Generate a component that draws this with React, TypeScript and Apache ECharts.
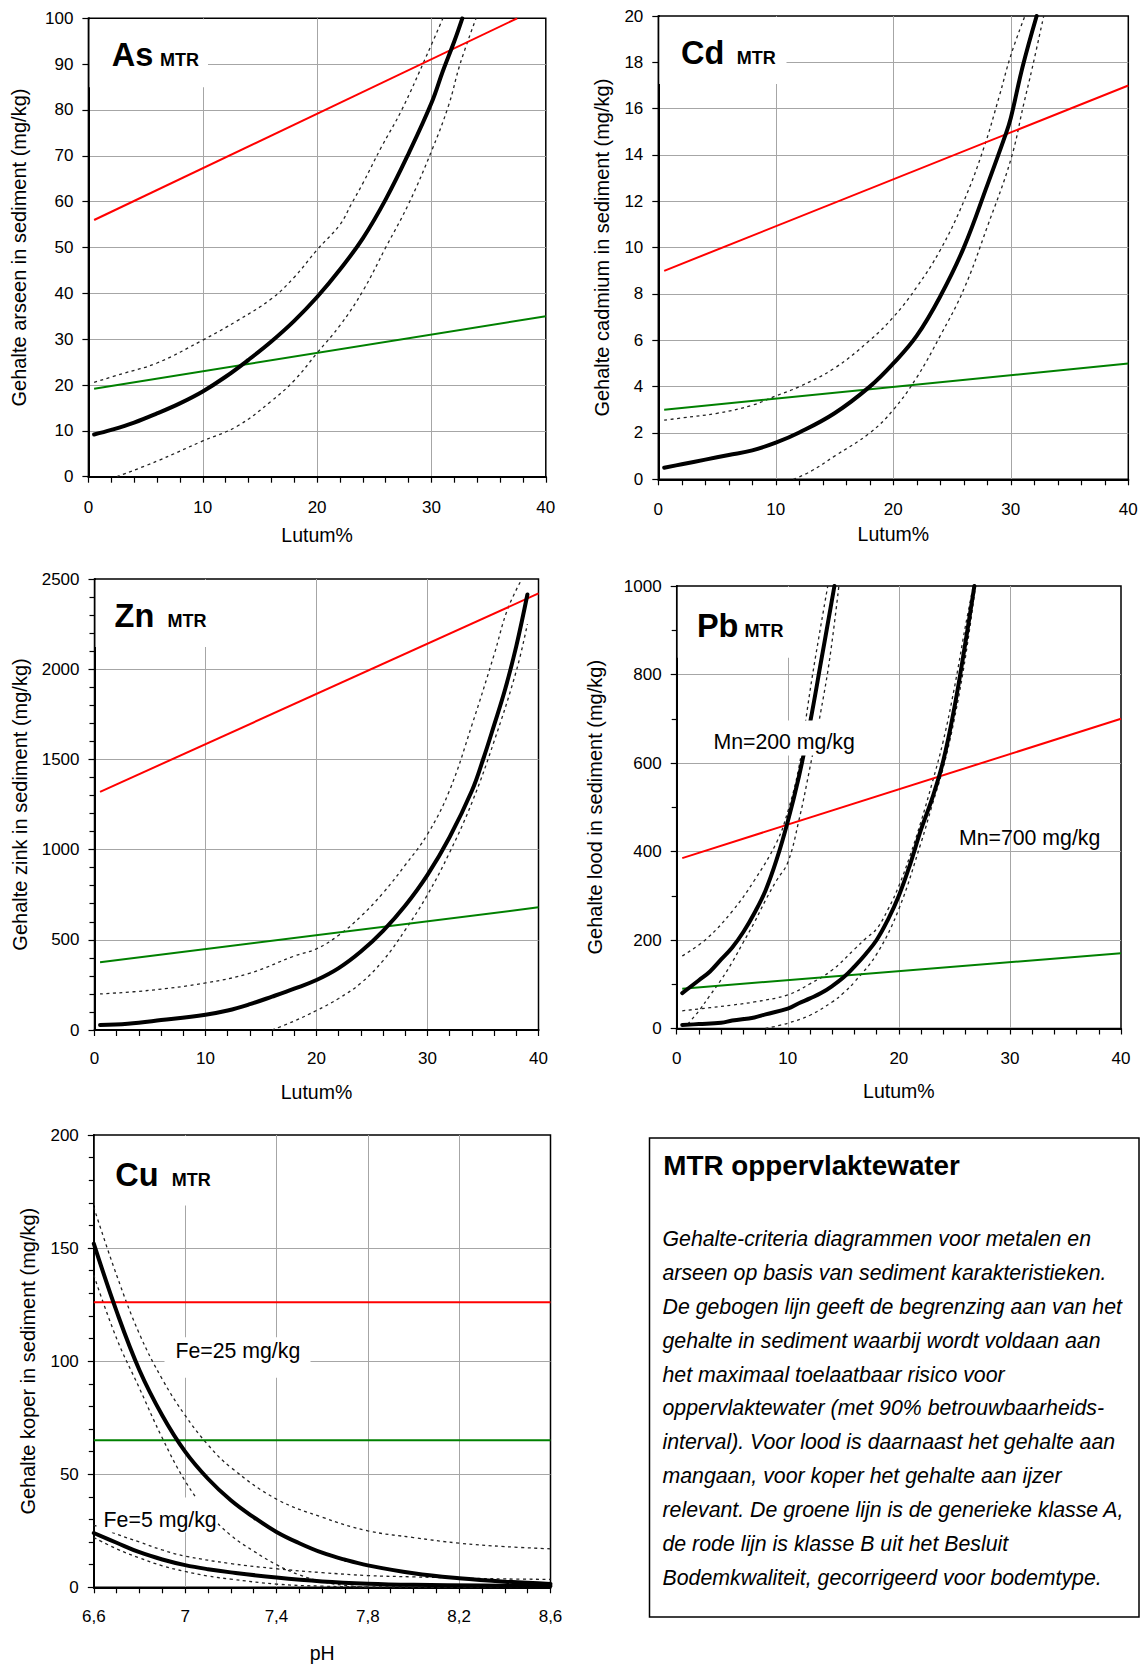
import { useEffect, useRef } from "react";
import * as echarts from "echarts";

type Pt = [number, number];

const FONT = '"Liberation Sans", Arial, Helvetica, sans-serif';

// ---------- As (Lutum% vs mg/kg) ----------
const asMain: Pt[] = [[0.5, 9.2], [2, 10.2], [4, 11.8], [6, 13.8], [8, 16], [10, 18.6], [12, 21.8], [14, 25.5], [16, 29.5], [18, 34], [20, 39.2], [22, 45.2], [24, 52], [26, 60.5], [28, 70.5], [30, 81.5], [31, 88.5], [32, 95], [32.7, 100]];
const asUpper: Pt[] = [[0.5, 20.6], [3, 22.5], [6, 24.8], [10, 29.8], [13, 34], [16, 38.8], [18, 43.5], [20, 49.5], [22, 55], [23, 59.5], [24, 64], [25.6, 71.8], [27.4, 80], [29.6, 92], [31, 100]];
const asLower: Pt[] = [[2.5, 0], [6, 3.4], [10, 7.8], [13, 11], [16, 16.5], [18, 21], [20, 27], [22, 33], [24, 40.5], [26, 50], [28, 59.5], [30, 71], [31.5, 81], [32.5, 90], [33.9, 100]];
const asRed: Pt[] = [[0.5, 56], [37.5, 100]];
const asGreen: Pt[] = [[0.5, 19.2], [40, 35]];

// ---------- Cd ----------
const cdMain: Pt[] = [[0.5, 0.5], [2, 0.65], [4, 0.85], [6, 1.05], [8, 1.25], [10, 1.58], [12, 2.02], [15, 2.85], [18, 4.0], [20, 5.0], [22, 6.2], [24, 7.9], [26, 10], [28, 12.7], [29.5, 14.8], [30, 15.6], [31, 17.8], [32.2, 20]];
const cdUpper: Pt[] = [[0.5, 2.55], [2, 2.65], [5, 2.85], [8, 3.2], [10, 3.6], [12, 4.0], [15, 4.8], [18, 6.0], [20, 7.0], [22, 8.3], [24, 9.9], [26, 12], [27.7, 14.3], [29, 16.5], [30, 18.3], [31.2, 20]];
const cdLower: Pt[] = [[11.5, 0], [13, 0.35], [15, 1.0], [18, 2.0], [20, 3.0], [22, 4.4], [24, 6.2], [26, 8.2], [28, 10.9], [30, 13.8], [31.1, 16.2], [31.8, 17.7], [32.8, 20]];
const cdRed: Pt[] = [[0.5, 9], [40, 17]];
const cdGreen: Pt[] = [[0.5, 3], [40, 5]];

// ---------- Zn ----------
const znMain: Pt[] = [[0.5, 28], [3, 35], [6, 55], [10, 85], [12, 108], [14, 143], [16, 185], [18, 229], [20, 277], [22, 343], [24, 435], [26, 550], [28, 690], [30, 860], [32, 1070], [34, 1326], [35, 1498], [36, 1690], [37, 1890], [38, 2128], [39, 2414]];
const znUpper: Pt[] = [[0.5, 200], [5, 220], [10, 261], [14, 315], [18, 410], [20, 450], [22, 525], [24, 630], [26, 760], [28, 915], [30, 1085], [32, 1330], [34, 1690], [36, 2080], [37.2, 2330], [38.5, 2500]];
const znLower: Pt[] = [[16, 0], [18, 50], [20, 108], [22, 175], [24, 260], [26, 385], [28, 555], [30, 750], [32, 985], [34, 1260], [36, 1600], [38, 1990], [39, 2250]];
const znRed: Pt[] = [[0.5, 1320], [40, 2420]];
const znGreen: Pt[] = [[0.5, 375], [40, 680]];

// ---------- Pb ----------
const pb200Main: Pt[] = [[0.5, 80], [2, 109], [3, 129], [4, 156], [5, 183], [6, 218], [7, 261], [8, 312], [9, 382], [10, 468], [11, 569], [12, 690], [13, 830], [14.2, 1000]];
const pb200Upper: Pt[] = [[0.5, 164], [2.7, 203], [5, 265], [7, 335], [9, 421], [10, 490], [11, 590], [11.6, 694], [12.3, 810], [13.6, 1000]];
const pb200Lower: Pt[] = [[1, 10], [2, 40], [3, 75], [4, 110], [5, 150], [6, 195], [7, 240], [8, 290], [9, 335], [10, 375], [11, 470], [12, 590], [13, 720], [13.8, 840], [14.6, 1000]];
const pb700Main: Pt[] = [[0.5, 8], [2, 10], [4, 13], [5, 18], [7, 25], [8, 32], [10, 45], [11, 57], [12, 68], [13, 80], [14, 96], [15, 115], [16, 140], [17, 168], [18, 200], [19, 245], [20, 300], [21, 370], [22, 450], [23, 520], [24, 605], [25, 725], [26, 873], [26.8, 1000]];
const pb700Upper: Pt[] = [[0.5, 40], [3, 47], [5, 53], [7, 60], [10, 76], [12, 101], [14, 132], [16, 179], [17, 203], [18, 225], [19, 268], [20, 322], [21, 390], [22, 468], [23, 555], [24, 650], [25, 770], [26, 910], [26.7, 1000]];
const pb700Lower: Pt[] = [[8, 0], [10, 12], [12, 30], [14, 60], [15, 80], [16, 105], [18, 168], [20, 270], [22, 420], [23, 505], [24, 590], [25, 700], [26, 840], [26.9, 1000]];
const pbRed: Pt[] = [[0.5, 385], [40, 700]];
const pbGreen: Pt[] = [[0.5, 90], [40, 170]];

// ---------- Cu (pH) ----------
const cu25Main: Pt[] = [[6.6, 152], [6.7, 122], [6.8, 96], [6.9, 76], [7.0, 60], [7.1, 48], [7.2, 38.5], [7.3, 31], [7.4, 24.5], [7.5, 19.5], [7.6, 15.3], [7.7, 12.2], [7.8, 9.7], [8.0, 6.2], [8.2, 4], [8.4, 2.5], [8.6, 1.5]];
const cu25Upper: Pt[] = [[6.6, 168], [6.7, 138], [6.8, 112], [6.9, 92], [7.0, 76], [7.1, 63], [7.2, 53], [7.4, 39], [7.6, 31], [7.8, 25], [8.0, 22], [8.2, 19.5], [8.4, 18], [8.6, 17]];
const cu25Lower: Pt[] = [[6.6, 138], [6.7, 110], [6.8, 88], [6.9, 66], [7.0, 47], [7.1, 33], [7.2, 23], [7.3, 16], [7.4, 10], [7.5, 5.5], [7.6, 2.5], [7.7, 0.8], [7.8, 0]];
const cu5Main: Pt[] = [[6.6, 24], [6.7, 19.7], [6.8, 15.5], [6.9, 12.3], [7.0, 9.8], [7.1, 8], [7.2, 6.6], [7.4, 4.3], [7.6, 2.6], [7.8, 1.6], [8.0, 1.1], [8.3, 0.8], [8.6, 0.6]];
const cu5Upper: Pt[] = [[6.6, 27.5], [6.7, 23.5], [6.8, 20], [6.9, 16.5], [7.0, 13.8], [7.2, 10.5], [7.4, 8.2], [7.6, 6.5], [7.8, 5.2], [8.0, 4.6], [8.2, 4.1], [8.4, 3.7], [8.6, 3.5]];
const cu5Lower: Pt[] = [[6.6, 22], [6.7, 17], [6.8, 13], [6.9, 9.5], [7.0, 7], [7.1, 5], [7.2, 3.6], [7.4, 1.4], [7.6, 0.5], [7.8, 0.2], [8.2, 0.1], [8.6, 0.1]];
const cuRed: Pt[] = [[6.6, 126], [8.6, 126]];
const cuGreen: Pt[] = [[6.6, 65], [8.6, 65]];

// ---------- texts ----------
const panelTitles = ["As", "Cd", "Zn", "Pb", "Cu"];
const yNames = [
  "Gehalte arseen in sediment (mg/kg)",
  "Gehalte cadmium in sediment (mg/kg)",
  "Gehalte zink in sediment (mg/kg)",
  "Gehalte lood in sediment (mg/kg)",
  "Gehalte koper in sediment (mg/kg)",
];
const xNames = ["Lutum%", "Lutum%", "Lutum%", "Lutum%", "pH"];
const boxTitle = "MTR oppervlaktewater";
const boxLines = [
  "Gehalte-criteria diagrammen voor metalen en",
  "arseen op basis van sediment karakteristieken.",
  "De gebogen lijn geeft de begrenzing aan van het",
  "gehalte in sediment waarbij wordt voldaan aan",
  "het maximaal toelaatbaar risico voor",
  "oppervlaktewater (met 90% betrouwbaarheids-",
  "interval). Voor lood is daarnaast het gehalte aan",
  "mangaan, voor koper het gehalte aan ijzer",
  "relevant. De groene lijn is de generieke klasse A,",
  "de rode lijn is klasse B uit het Besluit",
  "Bodemkwaliteit, gecorrigeerd voor bodemtype.",
];

type Kind = "main" | "bound" | "red" | "green";

interface Panel {
  grid: { left: number; top: number; width: number; height: number };
  x: { min: number; max: number; interval: number; minor: number; margin: number; nameGap: number; pH?: boolean };
  y: { min: number; max: number; interval: number; minor: number; nameGap: number };
  curves: [Pt[], Kind][];
  title: { rect: [number, number, number, number]; symX: number; mtrX: number; base: number };
}

const panels: Panel[] = [
  {
    grid: { left: 88.4, top: 18.3, width: 457.4, height: 458.4 },
    x: { min: 0, max: 40, interval: 10, minor: 5, margin: 22, nameGap: 48.5 },
    y: { min: 0, max: 100, interval: 10, minor: 0, nameGap: 59 },
    curves: [[asRed, "red"], [asGreen, "green"], [asUpper, "bound"], [asLower, "bound"], [asMain, "main"]],
    title: { rect: [89.5, 19.3, 118.5, 68], symX: 111.7, mtrX: 160, base: 65.8 },
  },
  {
    grid: { left: 658.3, top: 16, width: 470, height: 463.3 },
    x: { min: 0, max: 40, interval: 10, minor: 5, margin: 22, nameGap: 45 },
    y: { min: 0, max: 20, interval: 2, minor: 0, nameGap: 46 },
    curves: [[cdRed, "red"], [cdGreen, "green"], [cdUpper, "bound"], [cdLower, "bound"], [cdMain, "main"]],
    title: { rect: [659.3, 17, 127.2, 67], symX: 681, mtrX: 736.7, base: 64 },
  },
  {
    grid: { left: 94.5, top: 579, width: 444, height: 451 },
    x: { min: 0, max: 40, interval: 10, minor: 5, margin: 19.5, nameGap: 52.4 },
    y: { min: 0, max: 2500, interval: 500, minor: 5, nameGap: 65 },
    curves: [[znRed, "red"], [znGreen, "green"], [znUpper, "bound"], [znLower, "bound"], [znMain, "main"]],
    title: { rect: [95.5, 580, 120, 67], symX: 114.6, mtrX: 167.5, base: 627.2 },
  },
  {
    grid: { left: 676.7, top: 586, width: 444.3, height: 442.5 },
    x: { min: 0, max: 40, interval: 10, minor: 5, margin: 21, nameGap: 52.2 },
    y: { min: 0, max: 1000, interval: 200, minor: 2, nameGap: 71.5 },
    curves: [
      [pbRed, "red"], [pbGreen, "green"],
      [pb200Upper, "bound"], [pb200Lower, "bound"], [pb700Upper, "bound"], [pb700Lower, "bound"],
      [pb200Main, "main"], [pb700Main, "main"],
    ],
    title: { rect: [677.7, 587, 113, 70.7], symX: 696.9, mtrX: 744.5, base: 637 },
  },
  {
    grid: { left: 93.8, top: 1135, width: 456.7, height: 456.7 },
    x: { min: 6.6, max: 8.6, interval: 0.2, minor: 2, margin: 21, nameGap: 55.7, pH: true },
    y: { min: 0, max: 200, interval: 50, minor: 5, nameGap: 56 },
    curves: [
      [cuRed, "red"], [cuGreen, "green"],
      [cu25Upper, "bound"], [cu25Lower, "bound"], [cu5Upper, "bound"], [cu5Lower, "bound"],
      [cu25Main, "main"], [cu5Main, "main"],
    ],
    title: { rect: [94.8, 1136, 135, 69.5], symX: 115.3, mtrX: 171.7, base: 1186 },
  },
];

// free labels inside plots: [text, x, baseline, bgRect | null]
const freeLabels: [string, number, number, [number, number, number, number] | null][] = [
  ["Mn=200 mg/kg", 713.4, 749.8, [712.3, 720.5, 142.7, 35]],
  ["Mn=700 mg/kg", 958.9, 845.7, null],
  ["Fe=25 mg/kg", 175.4, 1358.5, [164.5, 1337.3, 146, 40.5]],
  ["Fe=5 mg/kg", 103.6, 1527.4, [98.9, 1497.5, 118.4, 35]],
];

const GRID_GRAY = "#a6a6a6";
const C = 0.3465; // central-baseline offset (em)

function txt(text: string, x: number, base: number, size: number, weight = "normal", style = "normal") {
  return {
    type: "text",
    z: 101,
    silent: true,
    style: {
      text,
      x,
      y: base - C * size,
      fill: "#000",
      fontFamily: FONT,
      fontSize: size,
      fontWeight: weight,
      fontStyle: style,
      align: "left",
      verticalAlign: "middle",
      textAlign: "left",
      textVerticalAlign: "middle",
    },
  };
}

function whiteRect(r: [number, number, number, number]) {
  return {
    type: "rect",
    z: 100,
    silent: true,
    shape: { x: r[0], y: r[1], width: r[2], height: r[3] },
    style: { fill: "#ffffff", stroke: "none" },
  };
}

function lineStyleFor(kind: Kind) {
  switch (kind) {
    case "main":
      return { color: "#000", width: 4, type: "solid" as const, cap: "round" as const, join: "round" as const };
    case "bound":
      return { color: "#222", width: 1.3, type: [3, 3.5] };
    case "red":
      return { color: "#ff0000", width: 2, type: "solid" as const };
    default:
      return { color: "#008000", width: 2, type: "solid" as const };
  }
}

function buildOption() {
  const grid = panels.map((p) => ({
    ...p.grid,
    show: true,
    borderColor: "#000",
    borderWidth: 1.5,
    backgroundColor: "transparent",
    containLabel: false,
  }));

  const xAxis = panels.map((p, i) => ({
    type: "value",
    gridIndex: i,
    min: p.x.min,
    max: p.x.max,
    interval: p.x.interval,
    name: xNames[i],
    nameLocation: "middle",
    nameGap: p.x.nameGap,
    nameTextStyle: { fontFamily: FONT, fontSize: 19.5, color: "#000" },
    axisLine: { show: true, onZero: false, lineStyle: { color: "#000", width: 2 } },
    axisTick: { show: true, inside: false, length: 6, lineStyle: { color: "#000", width: 1.2 } },
    minorTick: { show: p.x.minor > 0, splitNumber: p.x.minor, length: 6, lineStyle: { color: "#000", width: 1.2 } },
    splitLine: {
      show: true,
      showMinLine: false,
      showMaxLine: false,
      lineStyle: { color: p.x.pH ? ["rgba(0,0,0,0)", GRID_GRAY] : GRID_GRAY, width: 1 },
    },
    axisLabel: {
      fontFamily: FONT,
      fontSize: 17,
      color: "#000",
      margin: p.x.margin,
      formatter: p.x.pH
        ? (v: number) => {
            const t = Math.round(v * 10);
            return t % 4 === 2 ? String(t / 10).replace(".", ",") : "";
          }
        : (v: number) => String(Math.round(v)),
    },
  }));

  const yAxis = panels.map((p, i) => ({
    type: "value",
    gridIndex: i,
    min: p.y.min,
    max: p.y.max,
    interval: p.y.interval,
    name: yNames[i],
    nameLocation: "middle",
    nameRotate: 90,
    nameGap: p.y.nameGap,
    nameTextStyle: { fontFamily: FONT, fontSize: 20, color: "#000" },
    axisLine: { show: true, onZero: false, lineStyle: { color: "#000", width: 2 } },
    axisTick: { show: true, inside: false, length: 6, lineStyle: { color: "#000", width: 1.2 } },
    minorTick: { show: p.y.minor > 0, splitNumber: p.y.minor, length: 5, lineStyle: { color: "#000", width: 1.2 } },
    splitLine: { show: true, showMinLine: false, showMaxLine: false, lineStyle: { color: GRID_GRAY, width: 1 } },
    axisLabel: {
      fontFamily: FONT,
      fontSize: 17,
      color: "#000",
      margin: 15,
      formatter: (v: number) => String(Math.round(v * 100) / 100),
    },
  }));

  const series: any[] = [];
  panels.forEach((p, i) => {
    p.curves.forEach(([data, kind], k) => {
      series.push({
        type: "line",
        name: `${panelTitles[i]}-${k}`,
        xAxisIndex: i,
        yAxisIndex: i,
        data,
        showSymbol: false,
        symbol: "none",
        smooth: kind === "red" || kind === "green" ? false : 0.4,
        silent: true,
        clip: true,
        z: kind === "main" ? 5 : kind === "bound" ? 3 : 4,
        lineStyle: lineStyleFor(kind),
      });
    });
  });

  const graphic: any[] = [];
  panels.forEach((p, i) => {
    graphic.push(whiteRect(p.title.rect));
    graphic.push(txt(panelTitles[i], p.title.symX, p.title.base, 32.5, "bold"));
    graphic.push(txt("MTR", p.title.mtrX, p.title.base, 18, "bold"));
  });
  freeLabels.forEach(([t, x, b, r]) => {
    if (r) graphic.push(whiteRect(r));
    graphic.push(txt(t, x, b, 21.3));
  });
  // explanation box
  graphic.push({
    type: "rect",
    z: 99,
    silent: true,
    shape: { x: 649.5, y: 1138, width: 489.5, height: 479 },
    style: { fill: "#ffffff", stroke: "#000", lineWidth: 1.5 },
  });
  graphic.push(txt(boxTitle, 663.3, 1175, 27.8, "bold"));
  boxLines.forEach((line, k) => {
    graphic.push(txt(line, 662.5, 1246.7 + k * 33.83, 21.3, "normal", "italic"));
  });

  return {
    animation: false,
    backgroundColor: "#ffffff",
    textStyle: { fontFamily: FONT },
    grid,
    xAxis,
    yAxis,
    series,
    graphic,
  };
}

export default function App() {
  const ref = useRef<HTMLDivElement>(null);
  useEffect(() => {
    if (!ref.current) return;
    const chart = echarts.init(ref.current, undefined, { renderer: "svg" });
    chart.setOption(buildOption() as any);
    return () => chart.dispose();
  }, []);
  return (
    <div
      ref={ref}
      style={{ position: "absolute", left: 0, top: 0, width: 1145, height: 1664, background: "#fff" }}
    />
  );
}
